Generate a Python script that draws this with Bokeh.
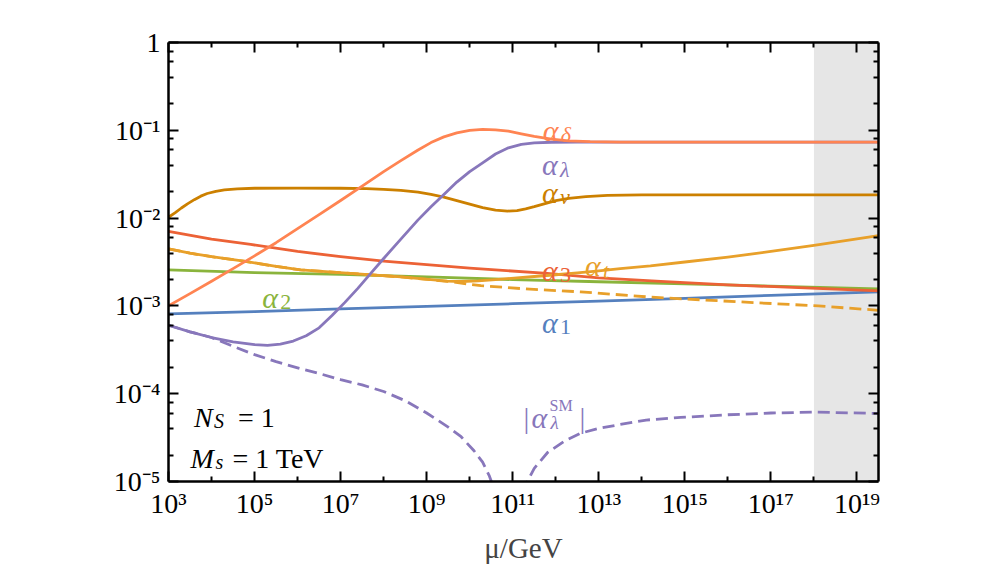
import numpy as np
from bokeh.plotting import figure
from bokeh.models import LogAxis, FixedTicker, BoxAnnotation, Label
from bokeh.embed import file_html
from bokeh.resources import INLINE

# ---------------- data (log10 mu/GeV, log10 alpha) ----------------
a1_lmu = [3, 5, 7, 9, 11, 13, 15, 17, 19.5]
a1_la = [-3.09, -3.065, -3.035, -3.005, -2.975, -2.945, -2.915, -2.88, -2.84]

a2_lmu = [3, 5, 7, 9, 11, 13, 15, 17, 19.5]
a2_la = [-2.59, -2.62, -2.64, -2.67, -2.70, -2.725, -2.75, -2.775, -2.805]

a3_lmu = [3, 4, 4.91, 6, 7, 8, 9, 10, 11.8, 13, 14.44, 16, 17.5, 19.5]
a3_la = [-2.15, -2.24, -2.30, -2.38, -2.44, -2.49, -2.53, -2.57, -2.63, -2.68, -2.72, -2.76, -2.79, -2.83]

at_sm_lmu = [3, 3.5, 4, 4.75, 5.5, 6.07, 7.23, 8.4, 9.48, 10.26, 11.4, 12.58, 14.2, 16.5, 18.1, 19.5]
at_sm_la = [-2.35, -2.40, -2.44, -2.49, -2.55, -2.59, -2.63, -2.67, -2.72, -2.77, -2.81, -2.84, -2.90, -2.96, -3.0, -3.05]

at_lmu = [3, 3.5, 4, 4.75, 5.5, 6.07, 7.23, 8.4, 9.1, 9.48, 9.8, 10.2, 10.6, 11.03, 11.5, 12.0, 12.5,
          13.0, 13.5, 14.2, 15, 16, 17, 18, 19.5]
at_la = [-2.35, -2.40, -2.44, -2.49, -2.55, -2.59, -2.63, -2.67, -2.70, -2.718, -2.722, -2.715, -2.70,
         -2.683, -2.665, -2.645, -2.625, -2.60, -2.575, -2.545, -2.50, -2.445, -2.38, -2.31, -2.20]

anu_lmu = [3, 3.15, 3.3, 3.45, 3.6, 3.75, 3.9, 4.1, 4.3, 4.6, 5.0, 6.0, 7.0, 7.6, 8.0, 8.4, 8.8, 9.1,
           9.4, 9.7, 10.0, 10.3, 10.6, 10.88, 11.1, 11.3, 11.5, 11.75, 12.0, 12.3, 12.7, 13.2, 14.0, 19.5]
anu_la = [-1.99, -1.94, -1.885, -1.835, -1.79, -1.75, -1.72, -1.695, -1.678, -1.667, -1.66, -1.658,
          -1.66, -1.665, -1.672, -1.685, -1.705, -1.73, -1.76, -1.80, -1.84, -1.88, -1.91, -1.92,
          -1.915, -1.895, -1.87, -1.835, -1.80, -1.775, -1.755, -1.742, -1.736, -1.735]

ad_lmu = [3, 3.5, 4, 4.5, 5, 5.5, 6, 6.5, 7, 7.5, 8, 8.4, 8.8, 9.1, 9.4, 9.7, 10.0, 10.3, 10.6, 10.9,
          11.2, 11.5, 11.9, 12.3, 12.8, 13.5, 19.5]
ad_la = [-3.0, -2.86, -2.72, -2.575, -2.43, -2.28, -2.12, -1.96, -1.80, -1.635, -1.47, -1.345, -1.225,
         -1.14, -1.075, -1.03, -1.0, -0.99, -0.995, -1.01, -1.04, -1.07, -1.10, -1.12, -1.13, -1.135, -1.135]

al_lmu = [3, 3.5, 4, 4.5, 5.0, 5.3, 5.6, 5.9, 6.2, 6.5, 6.8, 7.1, 7.4, 7.7, 8.0, 8.4, 8.8, 9.1, 9.4,
          9.7, 10.0, 10.3, 10.6, 10.9, 11.2, 11.5, 11.9, 12.5, 19.5]
al_la = [-3.22, -3.295, -3.36, -3.41, -3.44, -3.45, -3.435, -3.40, -3.34, -3.25, -3.11, -2.96, -2.80,
         -2.63, -2.46, -2.24, -2.02, -1.87, -1.73, -1.59, -1.47, -1.37, -1.27, -1.20, -1.16, -1.143,
         -1.136, -1.135, -1.135]

# |alpha_lambda^SM| : two branches around the zero of lambda_SM
alsm1_lmu = [3, 3.5, 4, 4.5, 5, 5.5, 6, 6.5, 7, 7.5, 8.0, 8.5, 9.0, 9.5, 9.8, 10.1, 10.3, 10.45, 10.58]
alsm1_la = [-3.22, -3.295, -3.36, -3.46, -3.555, -3.635, -3.705, -3.77, -3.84, -3.90, -3.975, -4.08,
            -4.22, -4.38, -4.49, -4.65, -4.78, -4.93, -5.1]
alsm2_lmu = [11.24, 11.35, 11.5, 11.81, 12.2, 12.58, 13.0, 13.5, 14.1, 14.9, 16.0, 17.0, 18.0, 19.5]
alsm2_la = [-5.12, -4.99, -4.85, -4.67, -4.54, -4.45, -4.395, -4.35, -4.30, -4.27, -4.24, -4.22, -4.21, -4.225]

# shaded region start (log10 mu)
band_lmu = 18

x_tick_exp = [3, 5, 7, 9, 11, 13, 15, 17, 19]
x_tick_labels = ["10³", "10⁵", "10⁷", "10⁹", "10¹¹", "10¹³", "10¹⁵", "10¹⁷", "10¹⁹"]
x_minor_exp = [4, 6, 8, 10, 12, 14, 16, 18]
y_tick_exp = [-5, -4, -3, -2, -1, 0]
y_tick_labels = ["10⁻⁵", "10⁻⁴", "10⁻³", "10⁻²", "10⁻¹", "1"]
y_minor_mant = [2, 4, 6, 8]

# ---------------- styling ----------------
C1 = "#5580BE"
C2 = "#8AB43C"
C3 = "#EC6236"
CT = "#E8A02A"
CNU = "#CC8000"
CD = "#FF8452"
CL = "#8877BB"
FONT = "Liberation Serif"
LW = 2.8

p = figure(width=997, height=573, x_axis_type="log", y_axis_type="log",
           x_range=(1e3, 10 ** 19.5), y_range=(1e-5, 1.0),
           output_backend="svg", toolbar_location=None,
           min_border_left=168, min_border_right=119, min_border_top=42, min_border_bottom=92)
p.xgrid.visible = False
p.ygrid.visible = False
p.outline_line_color = None
p.background_fill_color = "white"
p.border_fill_color = "white"

xmaj = [10.0 ** k for k in x_tick_exp]
xmin = [10.0 ** k for k in x_minor_exp]
ymaj = [10.0 ** k for k in y_tick_exp]
ymin = [m * 10.0 ** k for k in y_tick_exp[:-1] for m in y_minor_mant]

def style_axis(ax, ticker, labels=None):
    ax.ticker = ticker
    ax.axis_line_width = 2.5
    ax.axis_line_color = "black"
    ax.major_tick_line_width = 2
    ax.minor_tick_line_width = 2
    ax.major_tick_in = 10
    ax.major_tick_out = 0
    ax.minor_tick_in = 5
    ax.minor_tick_out = 0
    ax.major_label_text_font = FONT
    ax.major_label_text_font_size = "28px"
    ax.major_label_text_color = "black"
    if labels is None:
        ax.major_label_text_font_size = "0px"
        ax.major_label_text_alpha = 0
    else:
        ax.major_label_overrides = labels

xt = FixedTicker(ticks=xmaj, minor_ticks=xmin)
yt = FixedTicker(ticks=ymaj, minor_ticks=ymin)
style_axis(p.xaxis[0], xt, {v: s for v, s in zip(xmaj, x_tick_labels)})
style_axis(p.yaxis[0], yt, {v: s for v, s in zip(ymaj, y_tick_labels)})
p.xaxis[0].major_label_standoff = 6
p.yaxis[0].major_label_standoff = 8
p.xaxis[0].axis_label = "μ/GeV"
p.xaxis[0].axis_label_text_font = FONT
p.xaxis[0].axis_label_text_font_size = "29px"
p.xaxis[0].axis_label_text_font_style = "normal"
p.xaxis[0].axis_label_standoff = 10

top = LogAxis()
style_axis(top, FixedTicker(ticks=xmaj, minor_ticks=xmin))
p.add_layout(top, "above")
right = LogAxis()
style_axis(right, FixedTicker(ticks=ymaj, minor_ticks=ymin))
p.add_layout(right, "right")

p.add_layout(BoxAnnotation(left=10.0 ** band_lmu, fill_color="#E6E6E6", fill_alpha=1.0,
                           line_color=None, level="underlay"))

def curve(lmu, la, color, dash="solid"):
    p.line(10.0 ** np.array(lmu), 10.0 ** np.array(la), line_color=color, line_width=LW,
           line_dash=dash, line_join="round")

curve(a1_lmu, a1_la, C1)
curve(a2_lmu, a2_la, C2)
curve(a3_lmu, a3_la, C3)
curve(at_sm_lmu, at_sm_la, CT, "12 6")
curve(at_lmu, at_la, CT)
curve(anu_lmu, anu_la, CNU)
curve(alsm1_lmu, alsm1_la, CL, "12 6")
curve(alsm2_lmu, alsm2_la, CL, "12 6")
curve(al_lmu, al_la, CL)
curve(ad_lmu, ad_la, CD)

def put(lx, ly, text, size, italic=False, color="black", dx=0, dy=0):
    p.add_layout(Label(x=10.0 ** lx, y=10.0 ** ly, text=text, text_font=FONT,
                       text_font_size=f"{size}px",
                       text_font_style="italic" if italic else "normal",
                       text_color=color, x_offset=dx, y_offset=dy,
                       text_baseline="alphabetic", text_align="left"))

# curve labels: (log10 mu, log10 alpha) anchor, subscript, subscript italic, colour
curve_labels = [
    (11.70, -0.997, "δ", True, CD),
    (11.68, -1.390, "λ", True, CL),
    (11.68, -1.703, "ν", True, CNU),
    (11.68, -2.597, "3", False, C3),
    (12.68, -2.540, "t", True, CT),
    (11.68, -3.186, "1", False, C1),
    (5.18, -2.901, "2", False, C2),
]
for lx, ly, sub, it, col in curve_labels:
    put(lx, ly, "α", 30, True, col)
    put(lx, ly, sub, 22, it, col, dx=18, dy=-4.5)

# |alpha_lambda^SM|
put(11.25, -4.268, "|", 29, False, CL, dy=-1)
put(11.25, -4.268, "α", 30, True, CL, dx=8)
put(11.25, -4.268, "SM", 16, False, CL, dx=26, dy=12)
put(11.25, -4.268, "λ", 19, True, CL, dx=27, dy=-5)
put(11.25, -4.268, "|", 29, False, CL, dx=56, dy=-1)

# parameter box
put(3.59, -4.268, "N", 28, True)
put(3.59, -4.268, "S", 20, True, dx=20, dy=-3.5)
put(3.59, -4.268, "= 1", 28, False, dx=44)
put(3.51, -4.742, "M", 28, True)
put(3.51, -4.742, "s", 20, True, dx=25, dy=-3)
put(3.51, -4.742, "= 1 TeV", 28, False, dx=42)

open("out.html", "w").write(file_html(p, INLINE))
